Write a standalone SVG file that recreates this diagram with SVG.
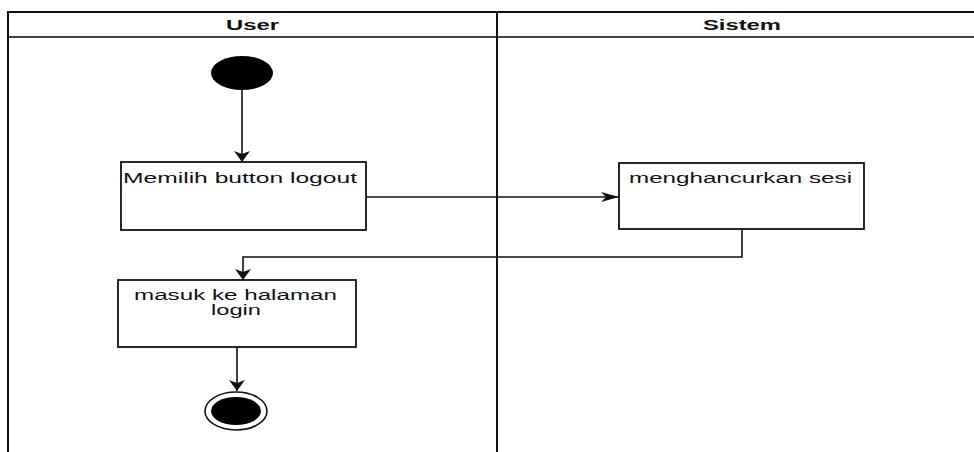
<svg xmlns="http://www.w3.org/2000/svg" width="974" height="452" viewBox="0 0 974 452">
  <style>
    .lane { stroke: #111; stroke-width: 2; fill: none; }
    .hdr { stroke: #444; stroke-width: 2; fill: none; }
    .box { fill: #fff; stroke: #111; stroke-width: 1.8; }
    .edge { fill: none; stroke: #111; stroke-width: 1.6; }
    .lbl { font-family: "Liberation Sans", Arial, sans-serif; font-size: 14px; fill: #111; }
    .title { font-family: "Liberation Sans", Arial, sans-serif; font-size: 14px; font-weight: bold; fill: #111; }
  </style>
  <defs>
    <!-- arrowhead for vertical edges: short and wide -->
    <marker id="arrowV" markerUnits="userSpaceOnUse" markerWidth="13" markerHeight="20" viewBox="0 -10 13 20" refX="11" refY="0" orient="auto">
      <path d="M11,0 L0,-8 L3,0 L0,8 Z" fill="#111"/>
    </marker>
    <!-- arrowhead for horizontal edges: long and narrow -->
    <marker id="arrowH" markerUnits="userSpaceOnUse" markerWidth="20" markerHeight="12" viewBox="0 -6 20 12" refX="18" refY="0" orient="auto">
      <path d="M18,0 L0,-5 L5,0 L0,5 Z" fill="#111"/>
    </marker>
  </defs>

  <rect width="974" height="452" fill="#fff"/>

  <!-- swimlane frame -->
  <g id="lanes">
    <line class="lane" x1="8" y1="12" x2="974" y2="12"/>
    <line class="hdr" x1="8" y1="37" x2="974" y2="37"/>
    <line class="lane" x1="8" y1="11" x2="8" y2="452"/>
    <line class="lane" x1="497" y1="11" x2="497" y2="452"/>
    <text class="title" x="226" y="30" textLength="53" lengthAdjust="spacingAndGlyphs">User</text>
    <text class="title" x="703" y="30" textLength="78" lengthAdjust="spacingAndGlyphs">Sistem</text>
  </g>

  <!-- connectors -->
  <g id="connectors">
    <path class="edge" d="M242,90 L242,162" marker-end="url(#arrowV)"/>
    <path class="edge" d="M366,197 L619,197" marker-end="url(#arrowH)"/>
    <path class="edge" d="M742,229 L742,257 L243,257 L243,280" marker-end="url(#arrowV)"/>
    <path class="edge" d="M237,347 L237,391" marker-end="url(#arrowV)"/>
  </g>

  <!-- initial node -->
  <g id="start">
    <ellipse cx="242" cy="73" rx="31" ry="17" fill="#000"/>
  </g>

  <g id="memilih-logout">
    <rect class="box" x="121" y="162" width="245" height="68"/>
    <text class="lbl" x="123" y="183" textLength="234" lengthAdjust="spacingAndGlyphs">Memilih button logout</text>
  </g>

  <g id="hancurkan-sesi">
    <rect class="box" x="619" y="163" width="245" height="66"/>
    <text class="lbl" x="629" y="183" textLength="223" lengthAdjust="spacingAndGlyphs">menghancurkan sesi</text>
  </g>

  <g id="halaman-login">
    <rect class="box" x="118" y="280" width="238" height="67"/>
    <text class="lbl" x="134" y="300" textLength="203" lengthAdjust="spacingAndGlyphs">masuk ke halaman</text>
    <text class="lbl" x="211" y="315" textLength="50" lengthAdjust="spacingAndGlyphs">login</text>
  </g>

  <!-- final node -->
  <g id="end">
    <ellipse cx="236" cy="411" rx="31" ry="19" fill="#fff" stroke="#111" stroke-width="1.6"/>
    <ellipse cx="236" cy="411" rx="25" ry="14" fill="#000"/>
  </g>
</svg>
